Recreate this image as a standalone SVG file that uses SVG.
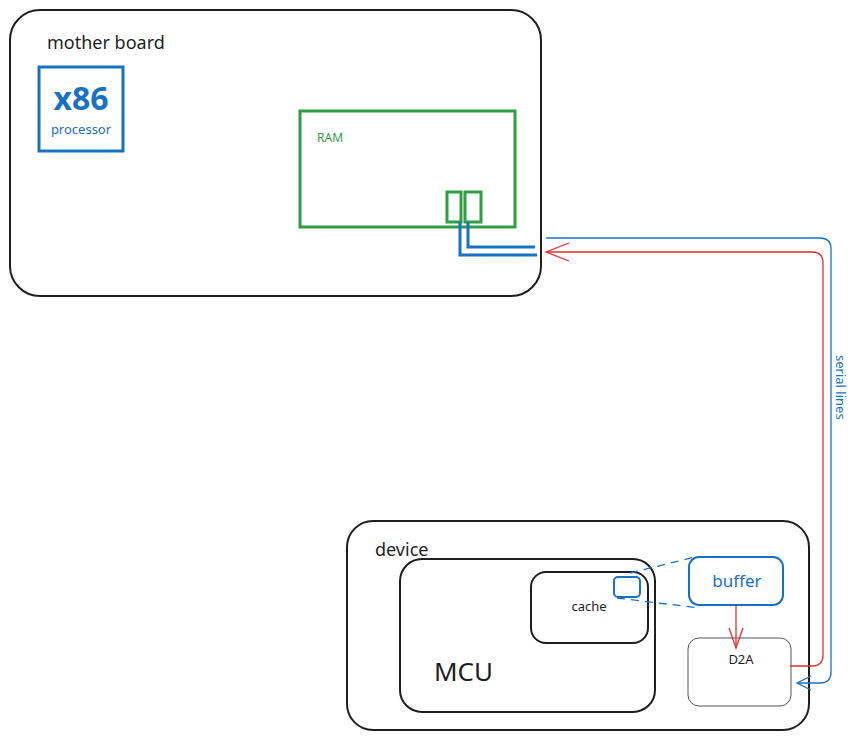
<svg xmlns="http://www.w3.org/2000/svg" width="860" height="740" viewBox="0 0 860 740">
<style>
text{font-family:"Noto Sans","Liberation Sans",sans-serif}
.blk{fill:none;stroke:#1e1e1e;stroke-width:2}
.blue{fill:none;stroke:#1971c2}
.grn{fill:none;stroke:#2f9e44;stroke-width:3}
.red{fill:none;stroke:#e03131;stroke-width:1.3}
.bl1{fill:none;stroke:#1971c2;stroke-width:1.3}
</style>
<defs>
<marker id="aR" markerWidth="30" markerHeight="24" refX="24" refY="12" orient="auto" markerUnits="userSpaceOnUse">
<path d="M1,3 L24,12 L1,21" fill="none" stroke="#e03131" stroke-width="1.3"/>
</marker>
<marker id="aB" markerWidth="30" markerHeight="24" refX="16" refY="12" orient="auto" markerUnits="userSpaceOnUse">
<path d="M2,5 L16,12 L2,19" fill="none" stroke="#1971c2" stroke-width="1.3"/>
</marker>
<marker id="aD" markerWidth="24" markerHeight="24" refX="21" refY="12" orient="auto" markerUnits="userSpaceOnUse">
<path d="M1,5 L21,12 L1,19" fill="none" stroke="#e03131" stroke-width="1.3"/>
</marker>
</defs>
<rect width="860" height="740" fill="#fff"/>

<g id="motherboard">
<rect class="blk" x="10" y="10" width="531" height="286" rx="30"/>
<text x="47" y="49" font-size="18" fill="#1e1e1e">mother board</text>
</g>
<g id="x86">
<rect class="blue" stroke-width="3" x="39" y="67" width="84" height="84"/>
<text x="81" y="110" font-size="32" font-weight="bold" fill="#1971c2" text-anchor="middle">x86</text>
<text x="81" y="134" font-size="13" fill="#1971c2" text-anchor="middle">processor</text>
</g>
<g id="ram">
<rect class="grn" x="300" y="111" width="215" height="116"/>
<text x="317" y="142" font-size="12" fill="#2f9e44">RAM</text>
<rect class="grn" x="447" y="192" width="14" height="30"/>
<rect class="grn" x="465" y="192" width="16" height="30"/>
</g>
<g id="device">
<rect class="blk" x="347" y="521" width="462" height="209" rx="26"/>
<text x="375" y="556" font-size="18" fill="#1e1e1e">device</text>
</g>
<g id="mcu">
<rect class="blk" x="400" y="559" width="255" height="153" rx="22"/>
<text x="434" y="681" font-size="26" fill="#1e1e1e">MCU</text>
</g>
<g id="cache">
<rect class="blk" x="531" y="572" width="117" height="71" rx="15"/>
<text x="589" y="611" font-size="13" fill="#1e1e1e" text-anchor="middle">cache</text>
<rect class="blue" stroke-width="2" x="614" y="577" width="26" height="20" rx="4"/>
</g>
<g id="buffer">
<rect class="blue" stroke-width="2" x="689" y="557" width="94" height="48" rx="10"/>
<text x="737" y="587" font-size="17" fill="#1971c2" text-anchor="middle">buffer</text>
</g>
<g id="d2a">
<rect fill="none" stroke="#555" stroke-width="1" x="688" y="638" width="103" height="68" rx="11"/>
<text x="741" y="664" font-size="13" fill="#1e1e1e" text-anchor="middle">D2A</text>
</g>

<g id="connectors">
<path d="M460,222 V255 H537" fill="none" stroke="#1971c2" stroke-width="3"/>
<path d="M468,222 V247 H535" fill="none" stroke="#1971c2" stroke-width="3"/>
<path class="bl1" d="M546,238 H820 Q831,238 831,249 V672 Q831,683 820,683 H797" marker-end="url(#aB)"/>
<path class="red" d="M790,666 H812 Q823,666 823,655 V263 Q823,252 812,252 H546" marker-end="url(#aR)"/>
<path class="red" d="M736,605 V648" marker-end="url(#aD)"/>
<path class="bl1" stroke-dasharray="8 6" d="M630,573 L695,557"/>
<path class="bl1" stroke-dasharray="8 6" d="M617,598 L700,608"/>
<text transform="translate(836,355) rotate(90)" font-size="13" fill="#1971c2">serial lines</text>
</g>
</svg>
